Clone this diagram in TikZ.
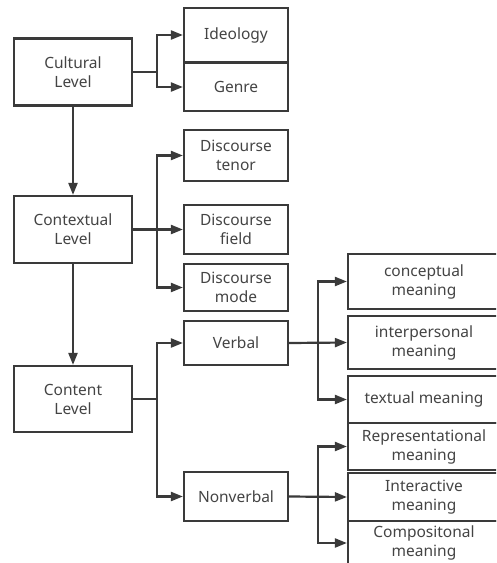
\documentclass[tikz,border=0pt]{standalone}
\usepackage{fontspec}
\setmainfont{Noto Sans}
\usetikzlibrary{arrows.meta}
\definecolor{lc}{HTML}{3A3A3A}
\definecolor{tc}{HTML}{444444}
\tikzset{
  box/.style={draw=lc, line width=2.2pt, fill=white, inner sep=0pt, align=center,
    text=tc, font=\fontsize{15.5}{19}\selectfont},
  ln/.style={draw=lc, line width=2.2pt},
  arr/.style={ln, -{Triangle[length=12pt,width=9pt]}},
}
\begin{document}
\begin{tikzpicture}[x=1pt,y=-1pt]
\useasboundingbox (0,0) rectangle (496,563);
\fill[white] (0,0) rectangle (496,563);
\clip (0,0) rectangle (496,563);
% left column
\node[box, minimum width=118pt, minimum height=67pt] (cult) at (73,72) {Cultural\\Level};
\node[box, minimum width=118pt, minimum height=67pt] (ctx) at (73,229.5) {Contextual\\Level};
\node[box, minimum width=118pt, minimum height=66pt] (cont) at (73,399) {Content\\Level};
% middle column
\node[box, minimum width=104pt, minimum height=54pt] (ideo) at (236,35) {Ideology};
\node[box, minimum width=104pt, minimum height=48pt] (genre) at (236,87) {Genre};
\node[box, minimum width=104pt, minimum height=51pt] (tenor) at (236,155.5) {Discourse\\tenor};
\node[box, minimum width=104pt, minimum height=49pt] (field) at (236,229.5) {Discourse\\field};
\node[box, minimum width=104pt, minimum height=47pt] (mode) at (236,287.5) {Discourse\\mode};
\node[box, minimum width=104pt, minimum height=44pt] (verb) at (236,343) {Verbal};
\node[box, minimum width=104pt, minimum height=49pt] (nonv) at (236,496.5) {Nonverbal};
% right column
\node[box, minimum width=152pt, minimum height=55pt] (conc) at (424,281.5) {conceptual\\meaning};
\node[box, minimum width=152pt, minimum height=53pt] (intp) at (424,342.5) {interpersonal\\meaning};
\node[box, minimum width=152pt, minimum height=47pt] (text) at (424,399.5) {textual meaning};
\node[box, minimum width=152pt, minimum height=47pt] (repr) at (424,446.5) {Representational\\meaning};
\node[box, minimum width=152pt, minimum height=48pt] (inta) at (424,497) {Interactive\\meaning};
\node[box, minimum width=152pt, minimum height=44pt] (comp) at (424,543) {Compositonal\\meaning};
% branch points
\coordinate (b1) at (157,72);
\coordinate (b2) at (157,229.5);
\coordinate (b3) at (157,399);
\coordinate (b4) at (318,343);
\coordinate (b5) at (318,496.5);
% vertical arrows
\draw[arr] (cult.south) -- (ctx.north);
\draw[arr] (ctx.south) -- (cont.north);
% cultural
\draw[ln] (cult.east) -- (b1);
\draw[arr] (b1) |- (ideo.west);
\draw[arr] (b1) |- (genre.west);
% contextual
\draw[arr] (ctx.east) -- (field.west);
\draw[arr] (b2) |- (tenor.west);
\draw[arr] (b2) |- (mode.west);
% content
\draw[ln] (cont.east) -- (b3);
\draw[arr] (b3) |- (verb.west);
\draw[arr] (b3) |- (nonv.west);
% verbal
\draw[arr] (verb.east) -- (intp.west);
\draw[arr] (b4) |- (conc.west);
\draw[arr] (b4) |- (text.west);
% nonverbal
\draw[arr] (nonv.east) -- (inta.west);
\draw[arr] (b5) |- (repr.west);
\draw[arr] (b5) |- (comp.west);
\end{tikzpicture}
\end{document}
